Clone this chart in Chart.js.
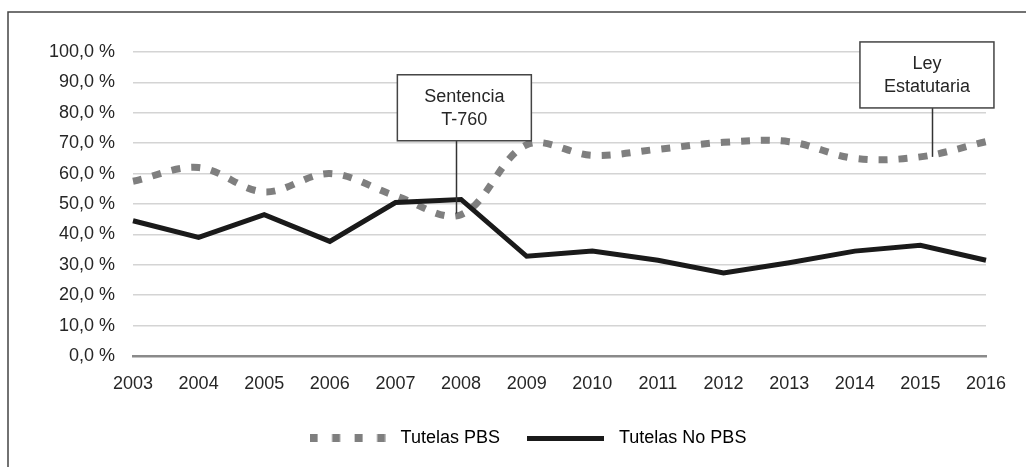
<!DOCTYPE html>
<html lang="es">
<head>
<meta charset="UTF-8">
<title>Tutelas PBS y No PBS</title>
<script src="https://cdn.jsdelivr.net/npm/chart.js@4.4.1/dist/chart.umd.min.js"></script>
<style>
  html, body { margin: 0; padding: 0; background: #fff; }
  #wrap { width: 1026px; height: 467px; }
</style>
</head>
<body>
<div id="wrap"><canvas id="myChart" width="1026" height="467"></canvas></div>
<script>
// datos
const years = ['2003', '2004', '2005', '2006', '2007', '2008', '2009', '2010', '2011', '2012', '2013', '2014', '2015', '2016'];
const tutelasPBS = [57.5, 62, 54, 60, 52.7, 46.5, 69.5, 66, 68, 70.3, 70.5, 65, 65.5, 70.5];
const tutelasNoPBS = [44.5, 39, 46.5, 37.7, 50.5, 51.5, 32.8, 34.5, 31.5, 27.3, 30.7, 34.5, 36.4, 31.5];
const yTicks = ['0,0 %', '10,0 %', '20,0 %', '30,0 %', '40,0 %', '50,0 %', '60,0 %', '70,0 %', '80,0 %', '90,0 %', '100,0 %'];
const seriesNames = ['Tutelas PBS', 'Tutelas No PBS'];

// notas: x = indice del año (punta / centro de caja), y = valor (%)
const notes = [
  { lines: ['Sentencia', 'T-760'], tipX: 4.93, tipY: 46.9, boxX: 5.05, boxY: 70.8 },
  { lines: ['Ley', 'Estatutaria'], tipX: 12.18, tipY: 65.5, boxX: 12.1, boxY: 81.6 }
];

const txt = '#262626';
const font = { family: "'Liberation Sans', Arial, sans-serif", size: 18 };

// muestras de la leyenda
function dashSample() {
  const c = document.createElement('canvas');
  c.width = 76; c.height = 8;
  const g = c.getContext('2d');
  g.fillStyle = '#7f7f7f';
  for (let i = 0; i < 4; i++) g.fillRect(i * 22.5, 0, 8, 8);
  return c;
}
function lineSample() {
  const c = document.createElement('canvas');
  c.width = 77; c.height = 5;
  const g = c.getContext('2d');
  g.fillStyle = '#1a1a1a';
  g.fillRect(0, 0, 77, 5);
  return c;
}
const samples = [dashSample(), lineSample()];

const frame = {
  id: 'frame',
  beforeDraw(chart) {
    const ctx = chart.ctx;
    ctx.save();
    ctx.strokeStyle = '#444';
    ctx.lineWidth = 1.5;
    ctx.beginPath();
    ctx.moveTo(8, 467);
    ctx.lineTo(8, 12);
    ctx.lineTo(1026, 12);
    ctx.stroke();
    ctx.restore();
  }
};

// la leyenda del original esta algo corrida a la derecha
const legendShift = {
  id: 'legendShift',
  afterLayout(chart) {
    chart.legend.left += 64;
  }
};

const callouts = {
  id: 'callouts',
  afterDatasetsDraw(chart) {
    const ctx = chart.ctx;
    const x = chart.scales.x, y = chart.scales.y;
    ctx.save();
    notes.forEach(n => {
      const tx = Math.round(x.getPixelForValue(n.tipX)) + 0.5;
      const ty = y.getPixelForValue(n.tipY);
      const bx = x.getPixelForValue(n.boxX);
      const bb = y.getPixelForValue(n.boxY);
      const w = 134, h = 66;
      ctx.strokeStyle = '#333';
      ctx.lineWidth = 1.5;
      ctx.beginPath();
      ctx.moveTo(tx, bb);
      ctx.lineTo(tx, ty);
      ctx.stroke();
      ctx.fillStyle = '#fff';
      ctx.fillRect(bx - w / 2, bb - h, w, h);
      ctx.strokeStyle = '#444';
      ctx.strokeRect(bx - w / 2, bb - h, w, h);
      ctx.fillStyle = txt;
      ctx.font = "18px 'Liberation Sans', Arial, sans-serif";
      ctx.textAlign = 'center';
      ctx.textBaseline = 'middle';
      n.lines.forEach((l, i) => ctx.fillText(l, bx, bb - h + 22 + i * 23));
    });
    ctx.restore();
  }
};

const ctx = document.getElementById('myChart').getContext('2d');
const myChart = new Chart(ctx, {
  type: 'line',
  data: {
    labels: years,
    datasets: [
      {
        label: seriesNames[0],
        data: tutelasPBS,
        borderColor: '#7f7f7f',
        backgroundColor: '#7f7f7f',
        borderWidth: 7,
        borderDash: [9, 11],
        borderCapStyle: 'butt',
        tension: 0.35,
        pointRadius: 0,
        order: 1
      },
      {
        label: seriesNames[1],
        data: tutelasNoPBS,
        borderColor: '#1a1a1a',
        backgroundColor: '#1a1a1a',
        borderWidth: 5,
        tension: 0,
        pointRadius: 0,
        order: 0
      }
    ]
  },
  options: {
    responsive: false,
    animation: false,
    layout: { padding: { left: 0, right: 40, top: 52, bottom: 10 } },
    plugins: {
      tooltip: { enabled: false },
      legend: {
        position: 'bottom',
        labels: {
          usePointStyle: true,
          pointStyleWidth: 88,
          boxHeight: 15,
          padding: 22,
          color: txt,
          font: font,
          generateLabels: () => seriesNames.map((s, i) => ({
            text: s,
            pointStyle: samples[i],
            fillStyle: 'transparent',
            strokeStyle: 'transparent',
            lineWidth: 0,
            hidden: false,
            datasetIndex: i
          }))
        }
      }
    },
    scales: {
      x: {
        offset: false,
        grid: { display: false, drawTicks: false },
        border: { display: true, color: '#8a8a8a', width: 2.5 },
        ticks: { color: txt, font: font, padding: 17, maxRotation: 0, autoSkip: false },
        afterFit: s => { s.height = 51; }
      },
      y: {
        min: 0,
        max: 100,
        grid: { color: '#d4d4d4', lineWidth: 1.5, drawTicks: false },
        border: { display: false },
        ticks: {
          stepSize: 10,
          padding: 18,
          color: txt,
          font: font,
          callback: (v, i) => yTicks[i]
        },
        afterFit: s => { s.width = 133; }
      }
    }
  },
  plugins: [frame, legendShift, callouts]
});
</script>
</body>
</html>
